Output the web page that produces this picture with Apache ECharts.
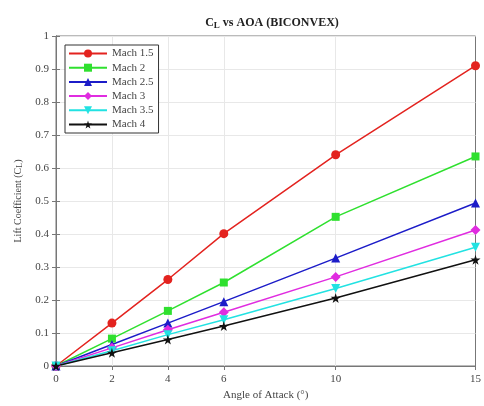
<!DOCTYPE html>
<html>
<head>
<meta charset="utf-8">
<script src="https://cdn.jsdelivr.net/npm/echarts@6/dist/echarts.min.js"></script>
<style>
  html, body { margin: 0; padding: 0; background: #fff; }
  #chart { width: 484px; height: 406px; }
</style>
</head>
<body>
<div id="chart"></div>
<script>
// angle of attack (deg)
const aoa = [0, 2, 4, 6, 10, 15]
const xTicks = [0, 2, 4, 6, 10, 15]

// lift coefficient per Mach number
const clMach15 = [0, 0.130, 0.262, 0.401, 0.640, 0.910]
const clMach2 = [0, 0.083, 0.167, 0.253, 0.452, 0.635]
const clMach25 = [0, 0.065, 0.130, 0.195, 0.327, 0.494]
const clMach3 = [0, 0.055, 0.110, 0.163, 0.270, 0.412]
const clMach35 = [0, 0.046, 0.095, 0.140, 0.235, 0.360]
const clMach4 = [0, 0.040, 0.080, 0.121, 0.206, 0.322]

const STAR = 'path://M50,0 L61,35 L98,35 L68,57 L79,91 L50,70 L21,91 L32,57 L2,35 L39,35 Z'

const lines = [
  { name: 'Mach 1.5', data: clMach15, color: '#e3231f', symbol: 'circle', size: 9 },
  { name: 'Mach 2', data: clMach2, color: '#2fe02f', symbol: 'rect', size: 8 },
  { name: 'Mach 2.5', data: clMach25, color: '#1c1cc8', symbol: 'triangle', size: 9 },
  { name: 'Mach 3', data: clMach3, color: '#e02ce0', symbol: 'diamond', size: 10 },
  { name: 'Mach 3.5', data: clMach35, color: '#22e2e2', symbol: 'triangle', size: 9, rotate: 180 },
  { name: 'Mach 4', data: clMach4, color: '#111111', symbol: STAR, size: 10 },
]

const FONT = '"Liberation Serif", "DejaVu Serif", serif'
const TXT = '#444'

const chart = echarts.init(document.getElementById('chart'))

const series = lines.map(l => ({
  name: l.name,
  type: 'line',
  data: l.data.map((v, i) => [aoa[i], v]),
  symbol: l.symbol,
  symbolSize: l.size,
  symbolRotate: l.rotate || 0,
  showAllSymbol: true,
  lineStyle: { width: 1.5, color: l.color },
  itemStyle: { color: l.color },
  z: 3,
}))

// vertical grid lines only at the labelled angles
series.push({
  name: 'xgrid',
  type: 'line',
  data: [],
  silent: true,
  z: 1,
  markLine: {
    silent: true,
    z: 1,
    symbol: 'none',
    label: { show: false },
    lineStyle: { color: '#e8e8e8', type: 'solid', width: 1 },
    data: xTicks.filter(v => v > 0 && v < 15).map(v => ({ xAxis: v })),
  },
})

chart.setOption({
  animation: false,
  backgroundColor: '#fff',
  textStyle: { fontFamily: FONT },
  title: {
    text: '{c|C}{s|L}{c| vs AOA (BICONVEX)}',
    left: 267,
    textAlign: 'center',
    top: 10,
    textStyle: {
      rich: {
        c: { fontFamily: FONT, fontSize: 12, fontWeight: 'bold', color: '#222' },
        s: { fontFamily: FONT, fontSize: 9, fontWeight: 'bold', color: '#222', verticalAlign: 'bottom', padding: [6, 0, 0, 0] },
      },
    },
  },
  legend: {
    orient: 'vertical',
    left: 65,
    top: 45,
    itemWidth: 38,
    itemHeight: 10,
    itemGap: 3.2,
    padding: [3, 5, 3, 3],
    backgroundColor: '#fff',
    borderColor: '#333',
    borderWidth: 1,
    borderRadius: 0,
    textStyle: { fontFamily: FONT, fontSize: 11, color: TXT },
    data: lines.map(l => l.name),
  },
  grid: { left: 56, right: 6, top: 36, bottom: 39, show: true, borderColor: '#777', borderWidth: 1 },
  xAxis: [
    {
      type: 'value',
      min: 0,
      max: 15,
      name: 'Angle of Attack (°)',
      nameLocation: 'middle',
      nameGap: 24,
      nameTextStyle: { fontFamily: FONT, fontSize: 11, color: TXT },
      axisLine: { lineStyle: { color: '#777' } },
      axisTick: { inside: true, length: 4, customValues: xTicks, lineStyle: { color: '#777' } },
      axisLabel: { customValues: xTicks, fontFamily: FONT, fontSize: 11, color: TXT, margin: 8 },
      splitLine: { show: false },
    },
    {
      type: 'value',
      min: 0,
      max: 15,
      position: 'top',
      axisLine: { show: true, lineStyle: { color: '#777' } },
      axisTick: { inside: true, length: 4, customValues: xTicks, lineStyle: { color: '#777' } },
      axisLabel: { show: false },
      splitLine: { show: false },
    },
  ],
  yAxis: [
    {
      type: 'value',
      min: 0,
      max: 1,
      interval: 0.1,
      name: '{t|Lift Coefficient (C}{s|L}{t|)}',
      nameLocation: 'middle',
      nameRotate: 90,
      nameGap: 32,
      nameTextStyle: {
        rich: {
          t: { fontFamily: FONT, fontSize: 10, color: TXT },
          s: { fontFamily: FONT, fontSize: 8, color: TXT, verticalAlign: 'bottom', padding: [4, 0, 0, 0] },
        },
      },
      axisLine: { show: true, lineStyle: { color: '#777' } },
      axisTick: { inside: true, length: 4, lineStyle: { color: '#777' } },
      axisLabel: {
        fontFamily: FONT, fontSize: 11, color: TXT, margin: 7,
        formatter: v => (v === 0 ? '0' : v === 1 ? '1' : String(+v.toFixed(1))),
      },
      splitLine: { show: true, lineStyle: { color: '#e8e8e8' } },
    },
    {
      type: 'value',
      min: 0,
      max: 1,
      interval: 0.1,
      position: 'right',
      axisLine: { show: true, lineStyle: { color: '#777' } },
      axisTick: { inside: true, length: 4, lineStyle: { color: '#777' } },
      axisLabel: { show: false },
      splitLine: { show: false },
    },
  ],
  series,
})
</script>
</body>
</html>
